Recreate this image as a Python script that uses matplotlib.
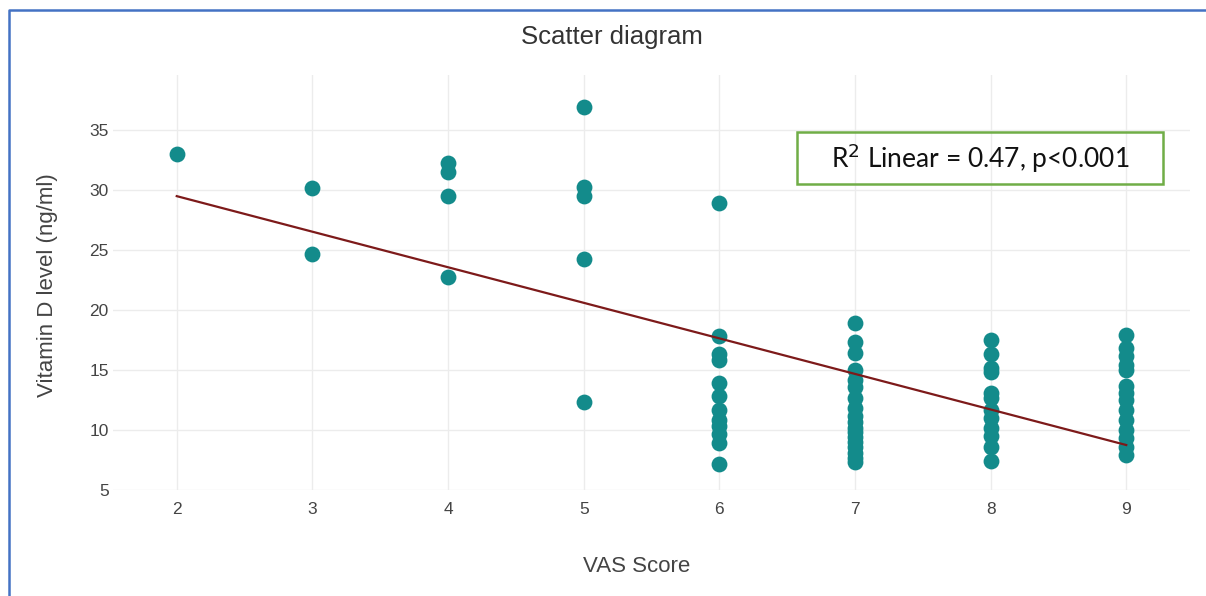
import numpy as np
import matplotlib
matplotlib.use('Agg')
import matplotlib.pyplot as plt
from matplotlib.patches import Rectangle
from matplotlib.lines import Line2D

plt.rcParams['font.family'] = ['Liberation Sans', 'DejaVu Sans']

# vitamin D values, grouped by VAS score
score_2 = [33.0]
score_3 = [30.2, 24.7]
score_4 = [32.3, 31.5, 29.5, 22.8]
score_5 = [36.9, 30.3, 29.5, 24.3, 12.3]
score_6 = [28.9, 17.8, 16.3, 15.8, 13.9, 12.8, 11.7, 10.8, 10.3, 9.7, 8.9, 7.2]
score_7 = [18.9, 17.3, 16.4, 15.0, 14.2, 13.6, 12.7, 11.8, 11.2, 10.7, 10.2,
           9.8, 9.4, 9.0, 8.6, 8.1, 7.7, 7.3]
score_8 = [17.5, 16.3, 15.2, 14.8, 13.1, 12.7, 11.7, 11.0, 10.2, 9.5, 8.6, 7.4]
score_9 = [17.9, 16.8, 16.2, 15.4, 15.0, 13.7, 13.1, 12.5, 11.7, 10.8, 10.0,
           9.3, 8.6, 7.9]

groups = {2: score_2, 3: score_3, 4: score_4, 5: score_5,
          6: score_6, 7: score_7, 8: score_8, 9: score_9}

# fitted line ends
fit_x = [2, 9]
fit_y = [29.5, 8.75]

x_ticks = [2, 3, 4, 5, 6, 7, 8, 9]
y_ticks = [5, 10, 15, 20, 25, 30, 35]

vas = []
vitd = []
for k, vals in groups.items():
    vas += [k] * len(vals)
    vitd += vals

fig = plt.figure(figsize=(12.06, 5.96), dpi=100)
ax = fig.add_axes([113/1206, 1 - 490/596, (1190-113)/1206, (490-75)/596])

ax.scatter(vas, vitd, s=130, color='#138b8b', linewidths=0, zorder=3)
ax.plot(fit_x, fit_y, color='#7d1a1a', lw=1.6, zorder=4)

ax.set_xlim(1.53, 9.47)
ax.set_ylim(5, 39.6)
ax.set_xticks(x_ticks)
ax.set_yticks(y_ticks)
ax.grid(True, color='#ececec', lw=1)
ax.set_axisbelow(True)
for s in ax.spines.values():
    s.set_visible(False)
ax.tick_params(length=0, labelsize=12.5, labelcolor='#444444')
ax.tick_params(axis='x', pad=9)
ax.tick_params(axis='y', pad=3)

fig.text(612/1206, 1 - 37/596, 'Scatter diagram', ha='center', va='center',
         fontsize=18.5, color='#333333')
fig.text(637/1206, 1 - 567/596, 'VAS Score', ha='center', va='center',
         fontsize=16, color='#444444')
fig.text(48/1206, 1 - 285/596, 'Vitamin D level (ng/ml)', ha='center', va='center',
         rotation=90, fontsize=16, color='#444444')

# annotation box
fig.patches.append(Rectangle((797/1206, 1 - 184/596), 366/1206, 52/596,
                             transform=fig.transFigure, fill=False,
                             edgecolor='#70ad47', lw=1.8))
fig.text(980/1206, 1 - 158/596, r'R$^2$ Linear = 0.47, p<0.001', ha='center',
         va='center', fontsize=19, color='#111111', family=['Lato', 'DejaVu Sans'])

# blue frame (top and left)
fig.lines.append(Line2D([9/1206, 9/1206, 1], [0, 1 - 10/596, 1 - 10/596],
                        transform=fig.transFigure, color='#4472c4', lw=1.8))

fig.savefig('out.png', dpi=100)
